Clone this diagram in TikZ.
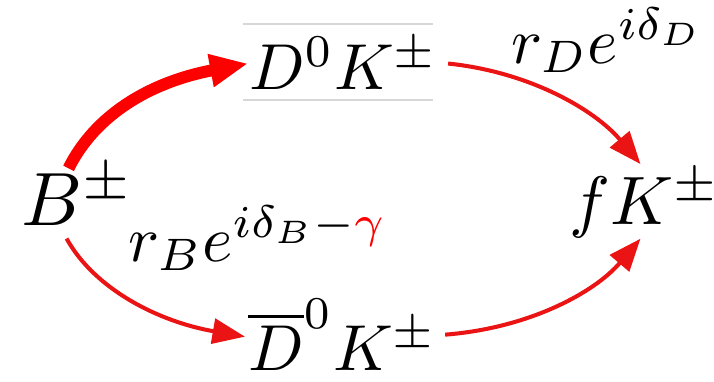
\documentclass[tikz,border=0pt]{standalone}
\usetikzlibrary{arrows.meta}
\definecolor{arrred}{RGB}{235,20,20}
\definecolor{rulegray}{RGB}{215,215,215}
\begin{document}
\begin{tikzpicture}[x=0.02cm,y=-0.02cm,
  lbl/.style={inner sep=0pt, anchor=base west},
  thinarr/.style={draw=arrred, line width=2.3pt, -{Triangle[length=0.65cm,width=0.5cm]}},
  thickarr/.style={draw=red, line width=6.8pt, -{Triangle[length=0.76cm,width=0.62cm]}},
  faint/.style={draw=rulegray, line width=0.6pt}]
\useasboundingbox (0,0) rectangle (714,382);
\node[lbl, scale=4.3] (B) at (20,225) {$B^{\pm}$};
\node[lbl, scale=3.7] (D) at (248,90) {$D^0K^{\pm}$};
\node[lbl, scale=3.7] (Db) at (247,370) {$\overline{D}^0K^{\pm}$};
\node[lbl, scale=3.9] (F) at (568,224) {$fK^{\pm}$};
\node[lbl, scale=3.7] (LD) at (510,63) {$r_De^{i\delta_D}$};
\node[lbl, scale=3.7] (LB) at (127,261) {$r_Be^{i\delta_B-\textcolor{red}{\gamma}}$};
\coordinate (t1) at (243,24); \coordinate (t2) at (433,24);
\coordinate (b1) at (243,100); \coordinate (b2) at (433,100);
\draw[faint] (t1) -- (t2);
\draw[faint] (b1) -- (b2);
\draw[thickarr] ([shift={(-9,5)}]B.north) .. controls (95,115) and (150,82) .. (D.west);
\draw[thinarr] ([shift={(9,0)}]D.east) .. controls (530,72) and (595,110) .. ([shift={(-4,-4)}]F.north);
\draw[thinarr] ([shift={(-11,12)}]B.south) .. controls (95,290) and (160,322) .. ([shift={(-2,2)}]Db.west);
\draw[thinarr] ([shift={(7,0)}]Db.east) .. controls (530,328) and (595,292) .. ([shift={(-4,0)}]F.south);
\end{tikzpicture}
\end{document}
